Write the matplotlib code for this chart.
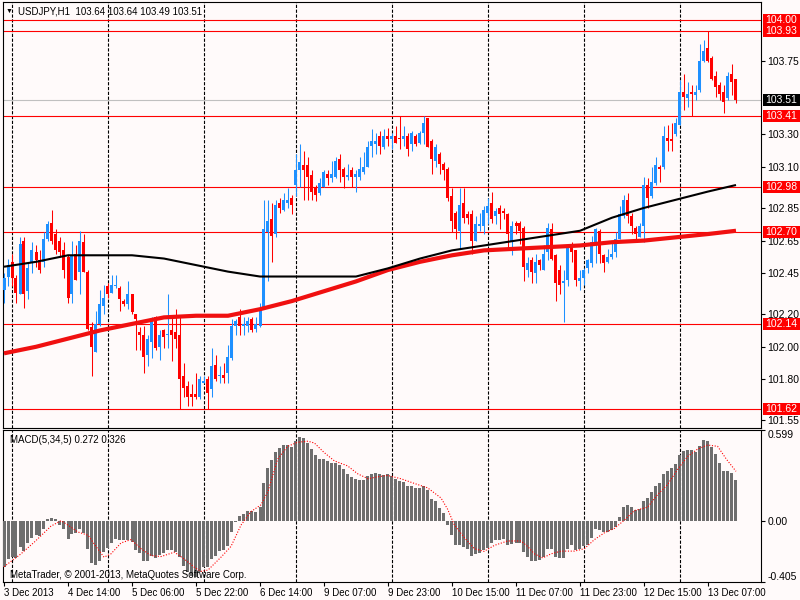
import matplotlib
matplotlib.use("Agg")
import matplotlib.pyplot as plt
import matplotlib.transforms as mtransforms
from matplotlib.patches import Rectangle

# USDJPY H1 candles, 3 Dec 2013 22:00 .. 13 Dec 2013 14:00 (184 bars)
opens = [
    102.35, 102.43, 102.52, 102.42, 102.32, 102.65, 102.34, 102.52, 102.58, 102.53,
    102.52, 102.66, 102.76, 102.69, 102.65, 102.59, 102.55, 102.32, 102.57, 102.46,
    102.64, 102.46, 102.12, 101.97, 102.14, 102.25, 102.37, 102.33, 102.37, 102.36,
    102.28, 102.26, 102.32, 102.20, 102.09, 102.07, 101.95, 102.03, 102.18, 102.00,
    102.10, 102.07, 102.10, 102.09, 102.07, 101.82, 101.76, 101.71, 101.71, 101.69,
    101.78, 101.80, 101.74, 101.89, 101.82, 101.83, 101.84, 101.93, 102.13, 102.18,
    102.13, 102.13, 102.17, 102.11, 102.13, 102.24, 102.70, 102.78, 102.69, 102.88,
    102.84, 102.88, 102.91, 102.99, 103.08, 103.11, 103.11, 103.05, 102.97, 102.94,
    102.98, 103.06, 103.03, 103.04, 103.15, 103.09, 103.04, 103.08, 103.04, 103.04,
    103.07, 103.10, 103.23, 103.24, 103.29, 103.22, 103.29, 103.27, 103.29, 103.28,
    103.27, 103.29, 103.24, 103.29, 103.25, 103.31, 103.40, 103.26, 103.14, 103.18,
    103.12, 103.09, 102.92, 102.82, 102.71, 102.88, 102.81, 102.81, 102.65, 102.74,
    102.74, 102.82, 102.88, 102.80, 102.85, 102.83, 102.81, 102.64, 102.76, 102.76,
    102.73, 102.47, 102.53, 102.45, 102.53, 102.47, 102.58, 102.72, 102.56, 102.47,
    102.39, 102.41, 102.62, 102.59, 102.40, 102.42, 102.48, 102.51, 102.63, 102.71,
    102.56, 102.52, 102.55, 102.58, 102.66, 102.80, 102.90, 102.80, 102.73, 102.67,
    102.74, 102.99, 102.92, 103.00, 103.10, 103.10, 103.28, 103.27, 103.30, 103.36,
    103.56, 103.52, 103.56, 103.54, 103.57, 103.75, 103.83, 103.77, 103.66, 103.60,
    103.56, 103.52, 103.67, 103.64]
highs = [
    102.45, 102.54, 102.57, 102.44, 102.67, 102.67, 102.51, 102.64, 102.62, 102.59,
    102.70, 102.77, 102.84, 102.72, 102.67, 102.64, 102.56, 102.65, 102.62, 102.71,
    102.69, 102.47, 102.15, 102.22, 102.35, 102.38, 102.39, 102.44, 102.44, 102.37,
    102.29, 102.40, 102.32, 102.20, 102.12, 102.13, 102.07, 102.18, 102.19, 102.10,
    102.11, 102.32, 102.18, 102.23, 102.18, 101.90, 101.79, 101.77, 101.84, 101.82,
    101.82, 101.82, 101.99, 101.95, 101.88, 101.90, 102.01, 102.17, 102.17, 102.23,
    102.18, 102.18, 102.18, 102.18, 102.27, 102.90, 102.90, 102.88, 102.90, 102.91,
    102.94, 102.97, 102.93, 103.18, 103.24, 103.20, 103.16, 103.08, 102.99, 103.03,
    103.08, 103.08, 103.14, 103.16, 103.18, 103.10, 103.12, 103.10, 103.08, 103.16,
    103.19, 103.26, 103.33, 103.31, 103.32, 103.33, 103.34, 103.31, 103.35, 103.41,
    103.35, 103.31, 103.32, 103.30, 103.32, 103.41, 103.40, 103.27, 103.24, 103.19,
    103.13, 103.10, 102.97, 102.83, 102.97, 102.97, 102.83, 102.84, 102.80, 102.82,
    102.86, 102.91, 102.95, 102.85, 102.87, 102.85, 102.82, 102.77, 102.77, 102.77,
    102.74, 102.55, 102.55, 102.57, 102.54, 102.62, 102.76, 102.76, 102.57, 102.50,
    102.47, 102.63, 102.64, 102.59, 102.47, 102.48, 102.54, 102.68, 102.73, 102.72,
    102.57, 102.60, 102.65, 102.70, 102.86, 102.93, 102.94, 102.82, 102.74, 102.76,
    103.04, 103.03, 103.10, 103.16, 103.11, 103.35, 103.36, 103.37, 103.40, 103.63,
    103.67, 103.62, 103.60, 103.60, 103.85, 103.88, 103.93, 103.78, 103.69, 103.62,
    103.60, 103.68, 103.73, 103.64]
lows = [
    102.27, 102.37, 102.37, 102.27, 102.32, 102.24, 102.29, 102.45, 102.49, 102.45,
    102.49, 102.65, 102.63, 102.57, 102.55, 102.42, 102.27, 102.27, 102.41, 102.32,
    102.46, 102.10, 101.82, 101.97, 102.13, 102.20, 102.30, 102.33, 102.36, 102.22,
    102.25, 102.23, 102.20, 101.98, 101.98, 101.84, 101.88, 101.93, 101.98, 101.92,
    101.99, 101.99, 101.91, 101.99, 101.62, 101.69, 101.64, 101.64, 101.68, 101.68,
    101.78, 101.62, 101.69, 101.79, 101.78, 101.78, 101.78, 101.92, 102.07, 102.07,
    102.07, 102.09, 102.09, 102.09, 102.12, 102.23, 102.40, 102.52, 102.67, 102.82,
    102.83, 102.85, 102.81, 102.92, 102.98, 102.90, 102.90, 102.90, 102.89, 102.93,
    102.98, 102.99, 103.01, 103.03, 103.01, 102.97, 103.02, 102.98, 102.95, 103.02,
    103.06, 103.10, 103.16, 103.18, 103.18, 103.21, 103.23, 103.21, 103.25, 103.21,
    103.23, 103.17, 103.20, 103.23, 103.24, 103.24, 103.22, 103.06, 103.10, 103.06,
    103.02, 102.89, 102.70, 102.66, 102.60, 102.76, 102.75, 102.57, 102.65, 102.71,
    102.69, 102.75, 102.76, 102.75, 102.72, 102.78, 102.59, 102.56, 102.69, 102.63,
    102.40, 102.43, 102.39, 102.39, 102.47, 102.47, 102.53, 102.53, 102.28, 102.32,
    102.15, 102.37, 102.52, 102.37, 102.35, 102.38, 102.45, 102.49, 102.51, 102.51,
    102.46, 102.51, 102.54, 102.55, 102.66, 102.79, 102.76, 102.69, 102.66, 102.67,
    102.64, 102.85, 102.91, 102.99, 103.01, 103.09, 103.20, 103.20, 103.29, 103.36,
    103.45, 103.47, 103.41, 103.51, 103.56, 103.74, 103.74, 103.63, 103.53, 103.51,
    103.43, 103.51, 103.54, 103.49]
closes = [
    102.42, 102.50, 102.42, 102.33, 102.63, 102.32, 102.48, 102.59, 102.53, 102.47,
    102.66, 102.75, 102.65, 102.59, 102.58, 102.47, 102.30, 102.56, 102.41, 102.65,
    102.46, 102.11, 102.00, 102.14, 102.26, 102.30, 102.32, 102.38, 102.38, 102.29,
    102.26, 102.32, 102.21, 102.17, 102.07, 101.94, 102.05, 102.16, 101.99, 102.07,
    102.06, 102.08, 102.07, 102.05, 101.80, 101.75, 101.69, 101.69, 101.69, 101.80,
    101.79, 101.72, 101.88, 101.80, 101.83, 101.81, 101.94, 102.13, 102.16, 102.13,
    102.14, 102.16, 102.10, 102.14, 102.24, 102.72, 102.77, 102.68, 102.87, 102.85,
    102.90, 102.90, 102.87, 103.08, 103.13, 103.08, 103.04, 102.95, 102.93, 103.00,
    103.07, 103.03, 103.06, 103.14, 103.08, 103.04, 103.05, 103.04, 103.06, 103.09,
    103.10, 103.22, 103.26, 103.26, 103.23, 103.29, 103.27, 103.29, 103.25, 103.27,
    103.29, 103.21, 103.31, 103.24, 103.31, 103.37, 103.22, 103.15, 103.22, 103.12,
    103.08, 102.91, 102.77, 102.72, 102.87, 102.79, 102.79, 102.65, 102.75, 102.75,
    102.84, 102.86, 102.78, 102.83, 102.81, 102.82, 102.69, 102.74, 102.74, 102.71,
    102.49, 102.51, 102.46, 102.52, 102.50, 102.57, 102.73, 102.54, 102.39, 102.38,
    102.40, 102.62, 102.58, 102.41, 102.42, 102.47, 102.53, 102.64, 102.72, 102.57,
    102.51, 102.55, 102.57, 102.66, 102.81, 102.90, 102.80, 102.74, 102.69, 102.74,
    102.99, 102.91, 103.01, 103.11, 103.09, 103.29, 103.26, 103.26, 103.37, 103.56,
    103.53, 103.55, 103.55, 103.56, 103.75, 103.81, 103.75, 103.64, 103.59, 103.55,
    103.50, 103.66, 103.62, 103.51]

# moving averages every 8 bars
ma_bars = [0, 8, 16, 24, 32, 40, 48, 56, 64, 72, 80, 88, 96, 104, 112, 120,
           128, 136, 144, 152, 160, 168, 176, 183]
ma_black = [102.49, 102.52, 102.56, 102.56, 102.56, 102.54, 102.50, 102.46,
            102.43, 102.43, 102.43, 102.43, 102.48, 102.54, 102.59, 102.62,
            102.65, 102.68, 102.71, 102.79, 102.85, 102.90, 102.95, 102.99]
ma_red = [101.96, 102.00, 102.05, 102.10, 102.14, 102.18, 102.19, 102.19,
          102.23, 102.28, 102.34, 102.40, 102.47, 102.52, 102.56, 102.59,
          102.60, 102.61, 102.62, 102.64, 102.65, 102.67, 102.69, 102.71]

# MACD(5,34,5) histogram, one value per bar
macd = [
    -0.308, -0.252, -0.241, -0.248, -0.174, -0.201, -0.147, -0.114, -0.096, -0.103,
    -0.058, 0.009, 0.016, 0.009, -0.029, -0.058, -0.121, -0.089, -0.080, -0.058,
    -0.080, -0.185, -0.281, -0.292, -0.268, -0.208, -0.179, -0.147, -0.121, -0.125,
    -0.129, -0.125, -0.141, -0.192, -0.214, -0.263, -0.268, -0.230, -0.246, -0.225,
    -0.214, -0.196, -0.192, -0.208, -0.241, -0.301, -0.342, -0.364, -0.371, -0.342,
    -0.308, -0.308, -0.252, -0.230, -0.201, -0.192, -0.170, -0.074, -0.007, 0.031,
    0.045, 0.065, 0.065, 0.060, 0.089, 0.250, 0.346, 0.402, 0.451, 0.482,
    0.502, 0.502, 0.484, 0.525, 0.554, 0.547, 0.513, 0.473, 0.433, 0.406,
    0.406, 0.395, 0.384, 0.384, 0.366, 0.339, 0.310, 0.290, 0.277, 0.268,
    0.272, 0.295, 0.306, 0.313, 0.306, 0.299, 0.306, 0.295, 0.277, 0.261,
    0.254, 0.228, 0.228, 0.217, 0.217, 0.228, 0.205, 0.143, 0.127, 0.083,
    0.054, -0.029, -0.096, -0.163, -0.163, -0.174, -0.185, -0.230, -0.219, -0.214,
    -0.196, -0.179, -0.147, -0.129, -0.125, -0.118, -0.163, -0.156, -0.147, -0.147,
    -0.208, -0.241, -0.268, -0.263, -0.259, -0.241, -0.185, -0.185, -0.241, -0.246,
    -0.248, -0.185, -0.163, -0.192, -0.185, -0.170, -0.163, -0.112, -0.058, -0.063,
    -0.074, -0.074, -0.063, -0.040, 0.022, 0.089, 0.105, 0.089, 0.071, 0.076,
    0.127, 0.150, 0.188, 0.232, 0.246, 0.306, 0.328, 0.350, 0.373, 0.433,
    0.462, 0.467, 0.467, 0.455, 0.491, 0.533, 0.525, 0.484, 0.440, 0.384,
    0.328, 0.328, 0.317, 0.272]

# signal line samples (bar, value)
sig_bars = [0, 4.25, 7.6, 11.75, 14.25, 16, 18.4, 21, 23.4, 25, 26.75, 29.25,
            31.75, 34.25, 36.75, 39.25, 42.6, 45, 47.6, 49.25, 51, 54.25, 56.75,
            59.25, 61.75, 64.25, 66, 68.4, 70.9, 73.4, 76, 77.6, 80, 82.6, 85.9,
            88.4, 91, 93.4, 95.9, 99.25, 102.6, 105.9, 109.25, 110.9, 112.6,
            115.1, 117.6, 120, 122.6, 125.9, 129.25, 130.9, 132.6, 134.7, 136.75,
            139.25, 142.6, 145.1, 147.6, 150.1, 152.6, 155.1, 157.6, 160.9, 163.4,
            165.9, 168.4, 170.9, 173.4, 175.9, 178.4, 180.6, 183]
sig_vals = [-0.304, -0.219, -0.141, -0.036, 0.0, -0.029, -0.074, -0.096, -0.185,
            -0.241, -0.219, -0.147, -0.125, -0.185, -0.230, -0.237, -0.208, -0.252,
            -0.308, -0.335, -0.326, -0.241, -0.170, -0.029, 0.060, 0.105, 0.194,
            0.406, 0.491, 0.518, 0.525, 0.513, 0.451, 0.395, 0.362, 0.310, 0.277,
            0.290, 0.299, 0.277, 0.246, 0.217, 0.150, 0.076, -0.029, -0.112,
            -0.185, -0.203, -0.163, -0.134, -0.134, -0.170, -0.219, -0.246, -0.219,
            -0.201, -0.201, -0.185, -0.125, -0.080, -0.051, 0.004, 0.067, 0.089,
            0.172, 0.239, 0.339, 0.424, 0.473, 0.500, 0.491, 0.406, 0.326]

levels = [104.00, 103.93, 103.41, 102.98, 102.70, 102.14, 101.62]
bid = 103.51
price_ticks = [103.75, 103.30, 103.10, 102.85, 102.65, 102.45, 102.20, 102.00, 101.80, 101.55]
day_bars = [2, 26, 50, 73, 97, 121, 145, 169]
time_ticks = [0, 16, 32, 48, 64, 80, 96, 112, 128, 144, 160, 176]
time_labels = ["3 Dec 2013", "4 Dec 14:00", "5 Dec 06:00", "5 Dec 22:00",
               "6 Dec 14:00", "9 Dec 07:00", "9 Dec 23:00", "10 Dec 15:00",
               "11 Dec 07:00", "11 Dec 23:00", "12 Dec 15:00", "13 Dec 07:00"]

BG = "#FFFAFA"
UP = "#1E90FF"
DOWN = "#FF0000"
FS = 7.5     # price scale
FS_TXT = 7   # captions and time scale

plt.rcParams["font.family"] = ["Liberation Sans", "DejaVu Sans"]

fig = plt.figure(figsize=(8, 6), dpi=100, facecolor=BG)
W, H = 800.0, 600.0
ax = fig.add_axes([2.5 / W, 1 - 428 / H, 758.5 / W, 426 / H], facecolor=BG)
ax2 = fig.add_axes([2.5 / W, 1 - 582 / H, 758.5 / W, 152 / H], facecolor=BG)

xlim = (-0.375, 189.25)
ylim = (101.503, 104.110)

# candles
n = len(opens)
xs = list(range(n))
up_x, up_b, up_h, dn_x, dn_b, dn_h = [], [], [], [], [], []
min_h = (ylim[1] - ylim[0]) / 426.0
for i in xs:
    o, c = opens[i], closes[i]
    lo_b, hgt = min(o, c), max(abs(c - o), min_h)
    if c > o:
        up_x.append(i); up_b.append(lo_b); up_h.append(hgt)
    else:
        dn_x.append(i); dn_b.append(lo_b); dn_h.append(hgt)
wick_cols = [UP if closes[i] > opens[i] else DOWN for i in xs]
ax.vlines(xs, lows, highs, colors=wick_cols, lw=0.75, zorder=3)
ax.bar(up_x, up_h, bottom=up_b, width=0.75, color=UP, linewidth=0, zorder=4)
ax.bar(dn_x, dn_h, bottom=dn_b, width=0.75, color=DOWN, linewidth=0, zorder=4)

# moving averages
ax.plot(ma_bars, ma_red, color="#F01010", lw=3.0, zorder=5, solid_capstyle="butt")
ax.plot(ma_bars, ma_black, color="black", lw=1.5, zorder=5, solid_capstyle="butt")

# levels and bid line
for lv in levels:
    ax.axhline(lv, color=DOWN, lw=0.8, zorder=2)
ax.axhline(bid, color="#C0C0C0", lw=0.8, zorder=1)

for d in day_bars:
    for a in (ax, ax2):
        a.axvline(d, color="black", lw=0.8, ls=(0, (2.9, 1.45)), zorder=1)

ax.set_xlim(*xlim)
ax.set_ylim(*ylim)
ax.set_xticks([])
ax.yaxis.tick_right()
ax.set_yticks(price_ticks)
ax.set_yticklabels([f"{p:.2f}" for p in price_ticks])
ax.tick_params(axis="y", direction="out", length=3, width=0.8, labelsize=FS, pad=1.5)

# coloured price boxes on the right scale
trans = mtransforms.blended_transform_factory(ax.transAxes, ax.transData)
px_x = 1 / 758.5
px_y = (ylim[1] - ylim[0]) / 426.0
for lv, fc in [(l, DOWN) for l in levels] + [(bid, "black")]:
    ax.add_patch(Rectangle((1 + 1.5 * px_x, lv - 6 * px_y), 40 * px_x, 12 * px_y,
                           transform=trans, facecolor=fc, edgecolor="none",
                           clip_on=False, zorder=6))
    ax.text(1 + 4.5 * px_x, lv, f"{lv:.2f}", transform=trans, color="white",
            fontsize=FS, va="center", ha="left", clip_on=False, zorder=7)

fig.text(9 / W, 1 - 11 / H, "\u25bc", fontsize=5, va="center", ha="center")
fig.text(18 / W, 1 - 11 / H, "USDJPY,H1  103.64 103.64 103.49 103.51",
         fontsize=FS_TXT, va="center", ha="left")

# MACD panel
ax2.bar(xs, macd, width=0.75, color="#6E6E6E", linewidth=0, zorder=3)
ax2.plot(sig_bars, sig_vals, color="red", lw=0.8, ls=(0, (1, 1.5)), zorder=4)
ax2.set_xlim(*xlim)
ax2.set_ylim(-0.405, 0.599)
ax2.yaxis.tick_right()
ax2.set_yticks([0.599, 0.0, -0.405])
ax2.set_yticklabels(["0.599", "0.00", "-0.405"])
ax2.tick_params(axis="y", direction="out", length=3, width=0.8, labelsize=FS, pad=1.5)
ylabs = ax2.get_yticklabels()
ylabs[0].set_va("top")
ylabs[2].set_va("bottom")
ax2.set_xticks(time_ticks)
ax2.set_xticklabels(time_labels, ha="left")
ax2.tick_params(axis="x", direction="out", length=3, width=0.8, labelsize=FS_TXT, pad=1.5)
ax2.text(7 / 758.5, 1 - 10 / 152, "MACD(5,34,5) 0.272 0.326", transform=ax2.transAxes,
         fontsize=FS_TXT, va="center", ha="left")
ax2.text(7 / 758.5, 1 - 145 / 152, "MetaTrader, \u00a9 2001-2013, MetaQuotes Software Corp.",
         transform=ax2.transAxes, fontsize=FS_TXT, va="center", ha="left", zorder=5)

for a in (ax, ax2):
    for s in a.spines.values():
        s.set_color("black")
        s.set_linewidth(0.8)

fig.savefig("out.png", dpi=100, facecolor=BG)
